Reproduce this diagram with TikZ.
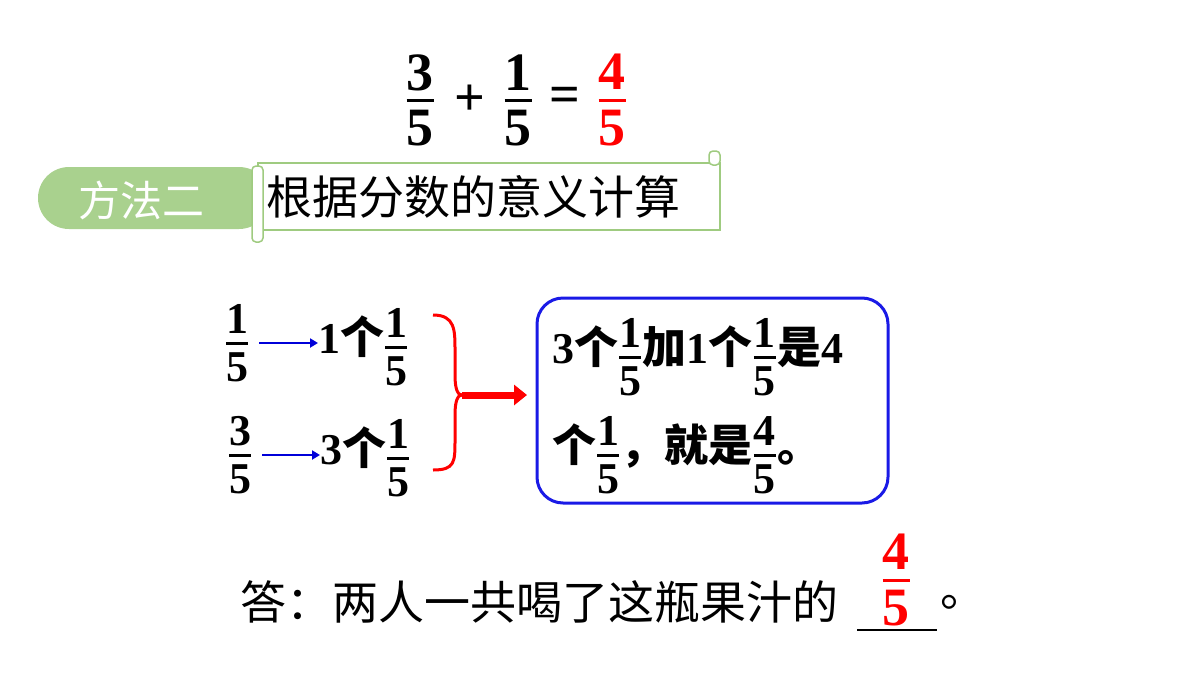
\documentclass[tikz,border=0pt]{standalone}
\usepackage{amsmath}
\usepackage{fontspec}
\setmainfont{Liberation Serif}
\newfontfamily\cjk{Noto Sans CJK SC}
\usetikzlibrary{positioning}
\usetikzlibrary{arrows.meta}
\definecolor{pillgreen}{HTML}{A9D18E}
\definecolor{scrollgreen}{HTML}{9FCB80}
\definecolor{boxblue}{HTML}{1A1AE6}
\newcommand\frc[2]{$\genfrac{}{}{2.6pt}{0}{\text{#1}}{\text{#2}}$}
\begin{document}
\begin{tikzpicture}[x=1pt,y=-1pt,
bignum/.style={font=\fontsize{54}{58}\selectfont\bfseries,inner sep=0pt},
midnum/.style={font=\fontsize{44}{48}\selectfont\bfseries,inner sep=0pt},
cjktext/.style={font=\fontsize{46}{50}\selectfont\cjk,inner sep=0pt,anchor=west},
thinarrow/.style={blue!85!black,line width=2.5pt,-{Triangle[length=8pt,width=9pt]}},
bigarrow/.style={red,line width=7pt,-{Triangle[length=13pt,width=20pt]}}]
\useasboundingbox (0,0) rectangle (1200,675);

% top sum
\node[bignum] (A1) at (420,100) {\frc{3}{5}};
\node[bignum] (P1) at (470,100) {+};
\node[bignum] (A2) at (518,100) {\frc{1}{5}};
\node[bignum] (E1) at (565,100) {=};
\node[bignum,red] (A3) at (612,100) {\frc{4}{5}};

% heading
\fill[pillgreen,rounded corners=31pt] (38,167) rectangle (270,229);
\node[cjktext,white,font=\fontsize{42}{46}\selectfont\cjk] (M2) at (78,200) {方法二};
\draw[scrollgreen,line width=1.5pt,fill=white] (258,163) rectangle (720,230);
\draw[scrollgreen,line width=1.5pt,fill=white,rounded corners=4pt] (252,166) rectangle (263,242);
\draw[scrollgreen,line width=1.5pt,fill=white,rounded corners=4pt] (709,151) rectangle (720,165);
\node[cjktext] (T1) at (266,197) {根据分数的意义计算};

% left part
\node[midnum] (F1) at (237,343) {\frc{1}{5}};
\node[midnum,anchor=west] (G1) at (318,347) {1{\cjk 个}\frc{1}{5}};
\node[midnum] (F2) at (240,455) {\frc{3}{5}};
\node[midnum,anchor=west] (G2) at (320,458) {3{\cjk 个}\frc{1}{5}};
\draw[thinarrow] (F1.east) ++(10,0) -- (G1.west |- F1.east);
\draw[thinarrow] (F2.east) ++(10,0) -- (G2.west |- F2.east);

% brace
\coordinate (B1) at (433,315);
\coordinate (B2) at (433,470);
\coordinate (BT) at (462,395);
\draw[red,line width=3pt] (B1) .. controls (455,315) and (455,330) .. (455,350) -- (455,375)
  .. controls (455,390) and (458,395) .. (BT) .. controls (458,395) and (455,400) .. (455,415)
  -- (455,440) .. controls (455,462) and (455,470) .. (B2);
\coordinate (R1) at (527,395);
\draw[bigarrow] (BT) -- (R1);

% result box
\draw[boxblue,line width=3pt,rounded corners=26pt] (537,298) rectangle (888,503);
\node[midnum,anchor=west] (L1) at (552,357) {3{\cjk 个}\frc{1}{5}{\cjk 加}1{\cjk 个}\frc{1}{5}{\cjk 是}4};
\node[midnum,anchor=west] (L2) at (552,455) {{\cjk 个}\frc{1}{5}{\cjk ，就是}\frc{4}{5}{\cjk 。}};

% answer
\node[cjktext] (Ans) at (240,602) {答：两人一共喝了这瓶果汁的};
\coordinate (U1) at (857,630);
\coordinate (U2) at (937,630);
\draw[line width=1.5pt] (U1) -- (U2);
\node[bignum,red] (A4) at (896,580) {\frc{4}{5}};
\node[cjktext] (Dot) at (940,602) {。};
\end{tikzpicture}
\end{document}
